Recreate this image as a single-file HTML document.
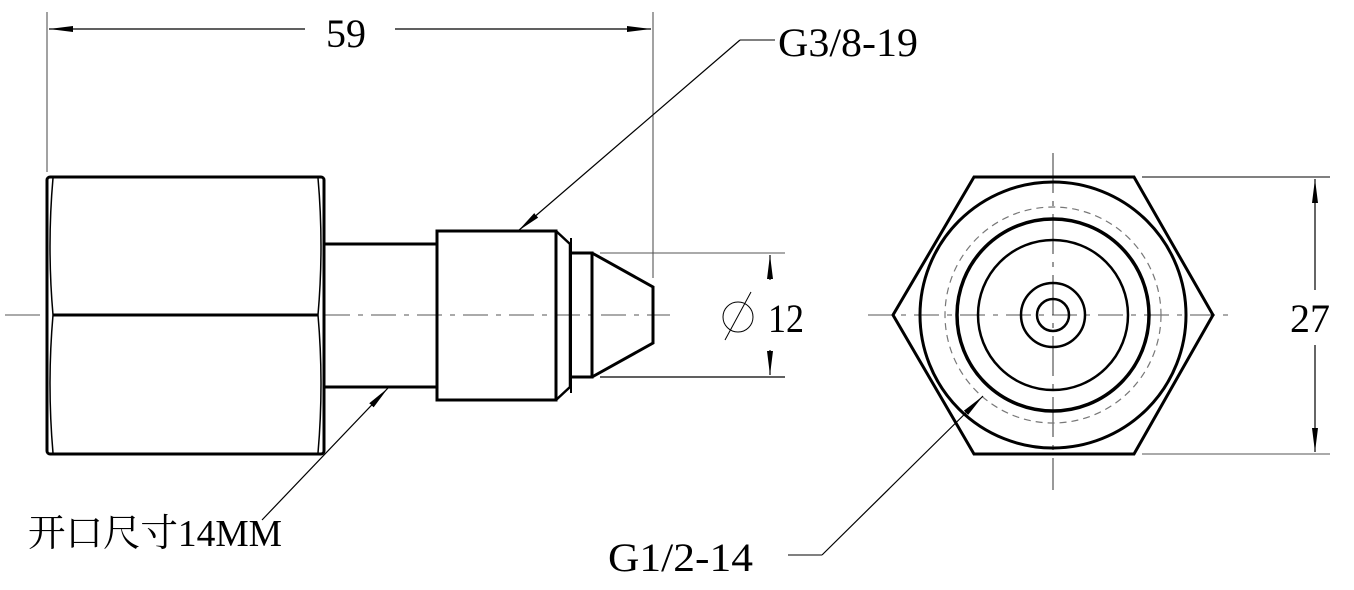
<!DOCTYPE html>
<html><head><meta charset="utf-8"><style>
html,body{margin:0;padding:0;background:#fff;}
svg{display:block}
text{font-family:"Liberation Serif","Noto Serif CJK SC",serif;fill:#000}
</style></head><body>
<svg width="1354" height="590" viewBox="0 0 1354 590" xmlns="http://www.w3.org/2000/svg">
<defs>
<marker id="a" markerWidth="24" markerHeight="8" refX="24" refY="4" orient="auto" markerUnits="userSpaceOnUse"><path d="M0,1 L24,4 L0,7 Z" fill="#000"/></marker>
</defs>
<g fill="none" stroke="#000">
<line x1="5" y1="315" x2="40" y2="315" stroke="#555" stroke-width="1"/>
<line x1="325" y1="315" x2="670" y2="315" stroke="#555" stroke-width="1" stroke-dasharray="25,8,5,8"/>
<line x1="868" y1="315" x2="1235" y2="315" stroke="#555" stroke-width="1" stroke-dasharray="25,8,5,8"/>
<line x1="1053" y1="153" x2="1053" y2="490" stroke="#333" stroke-width="1" stroke-dasharray="40,8,5,8"/>
<rect x="47" y="177" width="277" height="277" rx="3" stroke-width="3"/>
<line x1="53" y1="315" x2="318" y2="315" stroke-width="3"/>
<path d="M53,178 Q47,246 53,315 Q47,384 53,453" stroke-width="1.5"/>
<path d="M318,178 Q324,246 318,315 Q324,384 318,453" stroke-width="1.5"/>
<line x1="324" y1="244" x2="437" y2="244" stroke-width="3"/>
<line x1="324" y1="387" x2="437" y2="387" stroke-width="3"/>
<rect x="437" y="231" width="119" height="169" stroke-width="3"/>
<path d="M556,231 L570,244 L570,387 L556,400" stroke-width="2.5"/>
<line x1="571" y1="238" x2="571" y2="393" stroke-width="2"/>
<path d="M571,253 L592,253 L592,377 L571,377" stroke-width="3"/>
<path d="M592,253 L653,287 L653,343 L592,377" stroke-width="3"/>
<line x1="47" y1="12" x2="47" y2="172" stroke="#444" stroke-width="1"/>
<line x1="653" y1="12" x2="653" y2="278" stroke="#444" stroke-width="1"/>
<line x1="305" y1="29" x2="49" y2="29" stroke-width="1.2" marker-end="url(#a)"/>
<line x1="395" y1="29" x2="651" y2="29" stroke-width="1.2" marker-end="url(#a)"/>
<line x1="600" y1="253" x2="785" y2="253" stroke="#555" stroke-width="1"/>
<line x1="600" y1="377" x2="785" y2="377" stroke-width="1.2"/>
<line x1="770" y1="280" x2="770" y2="255" stroke-width="1.2" marker-end="url(#a)"/>
<line x1="770" y1="350" x2="770" y2="375" stroke-width="1.2" marker-end="url(#a)"/>
<circle cx="738" cy="317" r="15" stroke-width="1"/>
<line x1="725" y1="340" x2="751" y2="292" stroke-width="1"/>
<line x1="775" y1="40" x2="740" y2="40" stroke-width="1"/>
<line x1="740" y1="40" x2="518" y2="231" stroke-width="1.2" marker-end="url(#a)"/>
<line x1="262" y1="520" x2="388" y2="388" stroke-width="1.2" marker-end="url(#a)"/>
<polygon points="974,177 1134,177 1213,315 1134,454 974,454 893,315" stroke-width="3"/>
<circle cx="1053" cy="315" r="133" stroke-width="3"/>
<circle cx="1053" cy="315" r="108" stroke="#777" stroke-width="1.2" stroke-dasharray="7,5"/>
<circle cx="1053" cy="315" r="96" stroke-width="3.5"/>
<circle cx="1053" cy="315" r="75" stroke-width="2.5"/>
<circle cx="1053" cy="315" r="32" stroke-width="2.5"/>
<circle cx="1053" cy="315" r="16" stroke-width="2.5"/>
<line x1="1142" y1="177" x2="1330" y2="177" stroke-width="1"/>
<line x1="1142" y1="454" x2="1330" y2="454" stroke="#555" stroke-width="1"/>
<line x1="1315" y1="290" x2="1315" y2="179" stroke-width="1.2" marker-end="url(#a)"/>
<line x1="1315" y1="345" x2="1315" y2="452" stroke-width="1.2" marker-end="url(#a)"/>
<line x1="788" y1="555" x2="822" y2="555" stroke-width="1"/>
<line x1="822" y1="555" x2="983" y2="396" stroke-width="1.2" marker-end="url(#a)"/>
</g>
<text x="326" y="47" font-size="40" textLength="40" lengthAdjust="spacingAndGlyphs">59</text>
<text x="778" y="56" font-size="40" textLength="140" lengthAdjust="spacingAndGlyphs">G3/8-19</text>
<text x="768" y="332" font-size="40" textLength="36" lengthAdjust="spacingAndGlyphs">12</text>
<text x="1290" y="332" font-size="40" textLength="40" lengthAdjust="spacingAndGlyphs">27</text>
<text x="608" y="571" font-size="40" textLength="145" lengthAdjust="spacingAndGlyphs">G1/2-14</text>
<text x="28" y="546" font-size="38" textLength="254" lengthAdjust="spacingAndGlyphs">开口尺寸14MM</text>
</svg>
</body></html>
